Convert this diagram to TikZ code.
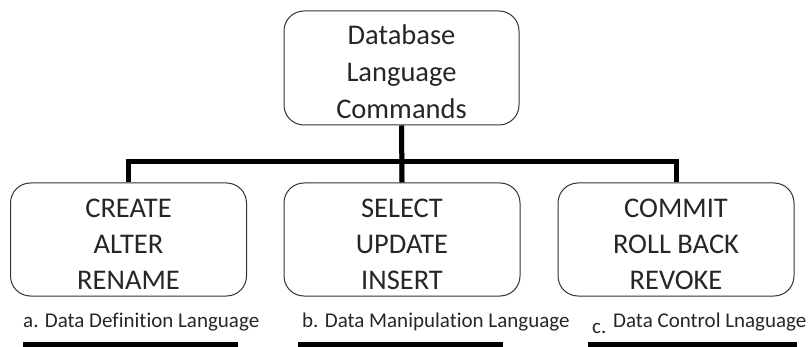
\documentclass[tikz,border=0pt]{standalone}
\usepackage{fontspec}
\setmainfont{Carlito}[Ligatures=NoCommon]
\begin{document}
\begin{tikzpicture}[x=1pt,y=-1pt,
  box/.style={draw=black!80,line width=1pt,rounded corners=20pt,minimum width=236pt,minimum height=113pt,inner sep=0pt},
  topbox/.style={box,minimum width=235pt,minimum height=114pt},
  boxtext/.style={align=center,inner sep=0pt,font=\fontsize{28.5}{36}\selectfont,text=black!85},
  toptext/.style={boxtext,font=\fontsize{28.5}{37}\selectfont},
  wire/.style={line width=5pt,black},
  wireshadow/.style={line width=5pt,black!45},
  caption/.style={anchor=base west,inner sep=0pt,font=\fontsize{21}{24}\selectfont,text=black!85},
  bar/.style={fill=black,draw=none}
]
\useasboundingbox (0,0) rectangle (810,347);
% boxes
\node[topbox] (top) at (401.5,68) {};
\node[box] (ddl) at (128.5,239.5) {};
\node[box] (dml) at (402,239.5) {};
\node[box] (dcl) at (676,239.5) {};
% texts
\node[toptext] (topt) at (401.5,71.4) {Database\\Language\\Commands};
\node[boxtext] (ddlt) at (128.5,244) {CREATE\\ALTER\\RENAME};
\node[boxtext] (dmlt) at (402,244) {SELECT\\UPDATE\\INSERT};
\node[boxtext] (dclt) at (676,244) {COMMIT\\ROLL BACK\\REVOKE};
% connectors
\coordinate (bus) at (0,162);
\begin{scope}[shift={(1.8,1.8)}]
\draw[wireshadow] (ddl.north) -- (ddl.north |- bus) -- (dcl.north |- bus) -- (dcl.north);
\draw[wireshadow] (top.south) -- (dml.north);
\end{scope}
\draw[wire] (ddl.north) -- (ddl.north |- bus) -- (dcl.north |- bus) -- (dcl.north);
\draw[wire] (top.south) -- (dml.north);
% captions
\node[caption] (capa) at (23,327) {a. Data Definition Language};
\node[caption] (capb) at (302,327) {b. Data Manipulation Language};
\node[caption] (capcl) at (592,333) {c.};
\node[caption] (capc) at (613,327) {Data Control Lnaguage};
% bars
\fill[bar] (23,342) rectangle (238,347);
\fill[bar] (298,342) rectangle (503,347);
\fill[bar] (588,342) rectangle (797,347);
\end{tikzpicture}
\end{document}
